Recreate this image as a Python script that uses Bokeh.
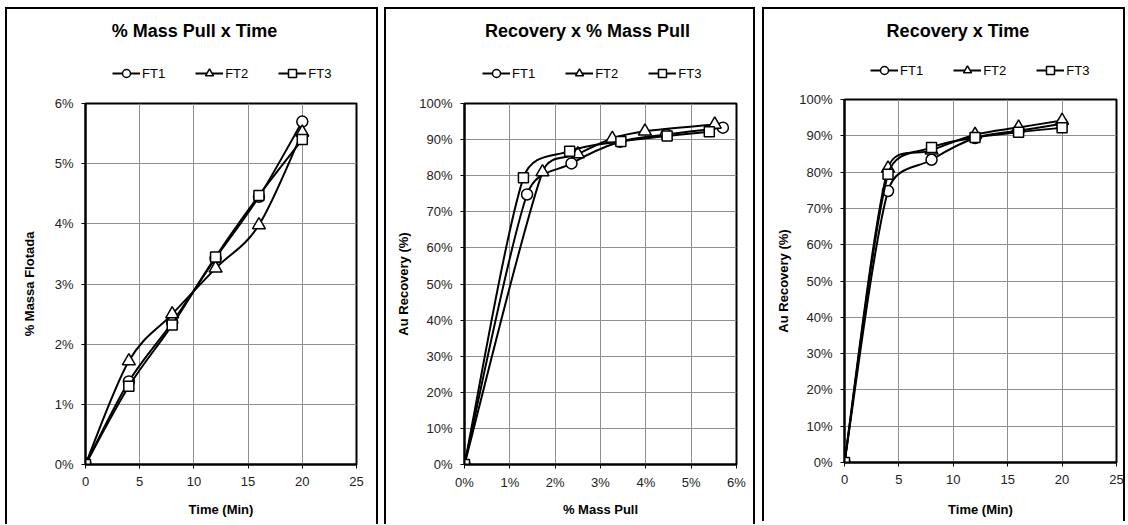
import math
from bokeh.plotting import figure
from bokeh.layouts import row, column
from bokeh.models import (Range1d, FixedTicker, PrintfTickFormatter, Legend, LegendItem,
                          Label, ColumnDataSource, Spacer)
from bokeh.embed import file_html
from bokeh.resources import INLINE

# ---------------- data ----------------
series_names = ["FT1", "FT2", "FT3"]
time_min = [0, 4, 8, 12, 16, 20]
mass_ft1 = [0.0, 1.38, 2.36, 3.43, 4.45, 5.70]
mass_ft2 = [0.0, 1.72, 2.50, 3.26, 3.98, 5.52]
mass_ft3 = [0.0, 1.30, 2.32, 3.45, 4.47, 5.40]
rec_ft1 = [0.0, 74.8, 83.4, 89.4, 91.4, 93.3]
rec_ft2 = [0.0, 81.0, 86.0, 90.3, 92.3, 94.2]
rec_ft3 = [0.0, 79.4, 86.8, 89.5, 91.0, 92.2]

time_ticks = [0, 5, 10, 15, 20, 25]
mass_ticks = [0, 1, 2, 3, 4, 5, 6]
rec_ticks = [0, 10, 20, 30, 40, 50, 60, 70, 80, 90, 100]

FONT = "Liberation Sans"
markers = ["circle", "triangle", "square"]
marker_sizes = [11, 13, 10]
BOX = {"box-shadow": "inset 2px 2px 0 0 #000, inset -2px 0 0 0 #000"}


def smooth_segments(xs, ys, kx, ky):
    """Excel-style smoothed line: cubic Bezier segments through the data points,
    control points computed in screen space (kx, ky = pixels per data unit)."""
    n = len(xs)
    P = [(x * kx, y * ky) for x, y in zip(xs, ys)]

    def dist(a, b):
        return math.hypot(a[0] - b[0], a[1] - b[1])

    d = dict(x0=[], y0=[], x1=[], y1=[], cx0=[], cy0=[], cx1=[], cy1=[])
    for i in range(n - 1):
        p0 = P[max(i - 1, 0)]
        p1 = P[i]
        p2 = P[i + 1]
        p3 = P[min(i + 2, n - 1)]
        d12 = dist(p1, p2)
        d02 = dist(p0, p2)
        d13 = dist(p1, p3)
        f1 = 1.0 / 6.0 if d02 / 6.0 < d12 / 2.0 else (d12 / 2.0) / d02
        f2 = 1.0 / 6.0 if d13 / 6.0 < d12 / 2.0 else (d12 / 2.0) / d13
        c1 = (p1[0] + (p2[0] - p0[0]) * f1, p1[1] + (p2[1] - p0[1]) * f1)
        c2 = (p2[0] - (p3[0] - p1[0]) * f2, p2[1] - (p3[1] - p1[1]) * f2)
        d["x0"].append(xs[i]); d["y0"].append(ys[i])
        d["x1"].append(xs[i + 1]); d["y1"].append(ys[i + 1])
        d["cx0"].append(c1[0] / kx); d["cy0"].append(c1[1] / ky)
        d["cx1"].append(c2[0] / kx); d["cy1"].append(c2[1] / ky)
    return ColumnDataSource(d)


def make_header(width, frame_w, height, title, title_x, title_y, legend_x, legend_y):
    # the header's frame is aligned with the plot frame below it (column alignment),
    # so positions here are relative to the plot frame's left edge, in pixels
    h = figure(width=width, height=height, x_range=Range1d(0, frame_w),
               y_range=Range1d(0, height), x_axis_type=None, y_axis_type=None,
               output_backend="svg", toolbar_location=None,
               min_border=0, min_border_left=0, min_border_right=0,
               min_border_top=0, min_border_bottom=0)
    h.outline_line_color = None
    h.background_fill_color = None
    h.border_fill_color = None
    h.grid.visible = False
    items = []
    for name, mk in zip(series_names, markers):
        lr = h.line([float("nan")], [float("nan")], line_color="black", line_width=2)
        sr = h.scatter([float("nan")], [float("nan")], marker=mk, fill_color="white",
                       line_color="black", line_width=1.5)
        items.append(LegendItem(label=name, renderers=[lr, sr]))
    leg = Legend(items=items, orientation="horizontal", location=(legend_x, legend_y),
                 glyph_width=28, glyph_height=20, label_standoff=2, spacing=30,
                 padding=0, margin=0, border_line_color=None,
                 background_fill_alpha=0, label_text_font=FONT,
                 label_text_font_size="13px", label_text_color="black", label_height=20)
    h.add_layout(leg)
    h.add_layout(Label(x=title_x, y=title_y, text=title, text_font=FONT,
                       text_font_size="18px", text_font_style="bold", text_align="center",
                       text_baseline="middle", text_color="black"))
    return h


def make_plot(width, left, right, frame_w, frame_h, bottom, x_end, y_end, xticks, yticks,
              xs_list, ys_list, xlabel, ylabel, ylabel_standoff, xl_standoff, xal_standoff):
    p = figure(width=width, height=10 + frame_h + bottom,
               x_range=Range1d(0, x_end), y_range=Range1d(0, y_end),
               output_backend="svg", toolbar_location=None,
               min_border_left=left, min_border_right=right,
               min_border_top=10, min_border_bottom=bottom)
    p.border_fill_color = None
    p.background_fill_color = "white"
    p.outline_line_color = "black"
    p.outline_line_width = 2

    p.xaxis.ticker = FixedTicker(ticks=xticks)
    p.yaxis.ticker = FixedTicker(ticks=yticks)
    p.grid.grid_line_color = "#8f8f8f"
    p.grid.grid_line_width = 1

    for ax in (p.xaxis[0], p.yaxis[0]):
        ax.axis_line_width = 2
        ax.axis_line_color = "black"
        ax.major_tick_line_color = "black"
        ax.major_tick_line_width = 1
        ax.major_tick_out = 4
        ax.major_tick_in = 0
        ax.minor_tick_line_color = None
        ax.major_label_text_font = FONT
        ax.major_label_text_font_size = "13px"
        ax.major_label_text_color = "#222222"
        ax.axis_label_text_font = FONT
        ax.axis_label_text_font_size = "13px"
        ax.axis_label_text_font_style = "bold"
        ax.axis_label_text_color = "black"
    p.xaxis.major_label_standoff = xl_standoff
    p.yaxis.major_label_standoff = 8
    p.xaxis.axis_label = xlabel
    p.yaxis.axis_label = ylabel
    p.xaxis.axis_label_standoff = xal_standoff
    p.yaxis.axis_label_standoff = ylabel_standoff

    kx = frame_w / x_end
    ky = frame_h / y_end
    for mk, sz, xs, ys in zip(markers, marker_sizes, xs_list, ys_list):
        src = smooth_segments(xs, ys, kx, ky)
        p.bezier(x0="x0", y0="y0", x1="x1", y1="y1", cx0="cx0", cy0="cy0",
                 cx1="cx1", cy1="cy1", source=src, line_color="black", line_width=2)
        p.scatter(xs, ys, marker=mk, size=sz, fill_color="white",
                  line_color="black", line_width=1.5)
    return p


# ---- panel 1 : % Mass Pull x Time ----
h1 = make_header(373, 271, 86, "% Mass Pull x Time", 109, 63, 27, 10)
p1 = make_plot(373, 80, 22, 271, 361, 60, 25, 6, time_ticks, mass_ticks,
               [time_min] * 3, [mass_ft1, mass_ft2, mass_ft3],
               "Time (Min)", "% Massa Flotada", 15, 8, 13)
p1.yaxis.formatter = PrintfTickFormatter(format="%d%%")

# ---- panel 2 : Recovery x % Mass Pull ----
h2 = make_header(371, 272, 86, "Recovery x % Mass Pull", 123, 63, 18, 10)
p2 = make_plot(371, 80, 19, 272, 361, 60, 6, 100, mass_ticks, rec_ticks,
               [mass_ft1, mass_ft2, mass_ft3], [rec_ft1, rec_ft2, rec_ft3],
               "% Mass Pull", "Au Recovery (%)", 5, 6, 9)
p2.xaxis.formatter = PrintfTickFormatter(format="%d%%")
p2.yaxis.formatter = PrintfTickFormatter(format="%d%%")

# ---- panel 3 : Recovery x Time ----
h3 = make_header(363, 272, 82, "Recovery x Time", 113.5, 59, 26, 9)
p3 = make_plot(363, 82, 9, 272, 363, 59, 25, 100, time_ticks, rec_ticks,
               [time_min] * 3, [rec_ft1, rec_ft2, rec_ft3],
               "Time (Min)", "Au Recovery (%)", 5, 8, 15)
p3.yaxis.formatter = PrintfTickFormatter(format="%d%%")

c1 = column(h1, p1, spacing=0, styles=BOX)
c2 = column(h2, p2, spacing=0, styles=BOX)
c3 = column(h3, p3, spacing=0, styles=BOX)

layout = column(Spacer(height=7),
                row(Spacer(width=5), c1, Spacer(width=6), c2, Spacer(width=7), c3, spacing=0),
                spacing=0)
open("out.html", "w").write(file_html(layout, INLINE))
